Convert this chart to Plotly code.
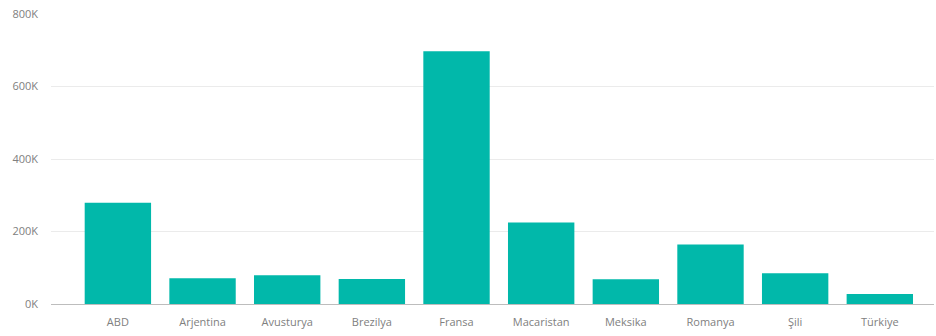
import plotly.graph_objects as go

countries = ["ABD", "Arjentina", "Avusturya", "Brezilya", "Fransa",
             "Macaristan", "Meksika", "Romanya", "Şili", "Türkiye"]
values = [279000, 71000, 79000, 69000, 697000,
          225000, 68000, 164000, 85000, 27500]
y_ticks = [0, 200000, 400000, 600000, 800000]
y_tick_labels = ["0K", "200K", "400K", "600K", "800K"]

fig = go.Figure(
    go.Bar(
        x=countries,
        y=values,
        marker=dict(color="#01B8AA", line=dict(width=0)),
        width=0.784,
    )
)

fig.update_layout(
    width=936,
    height=336,
    margin=dict(l=51, r=2, t=14, b=32),
    paper_bgcolor="white",
    plot_bgcolor="white",
    font=dict(family="Segoe UI, Open Sans, sans-serif", size=11, color="#808080"),
    showlegend=False,
)

fig.update_xaxes(
    range=[-0.79, 9.64],
    showgrid=False,
    showline=True,
    linecolor="#bdbdbd",
    linewidth=1,
    ticks="",
    ticklabelstandoff=8,
    tickfont=dict(size=11, color="#808080"),
)

fig.update_yaxes(
    range=[0, 800000],
    tickvals=y_ticks,
    ticktext=y_tick_labels,
    showgrid=True,
    gridcolor="#ebebeb",
    gridwidth=1,
    zeroline=False,
    showline=False,
    ticks="",
    ticklabelstandoff=12,
    tickfont=dict(size=11, color="#808080"),
)

fig.write_html("out.html")
